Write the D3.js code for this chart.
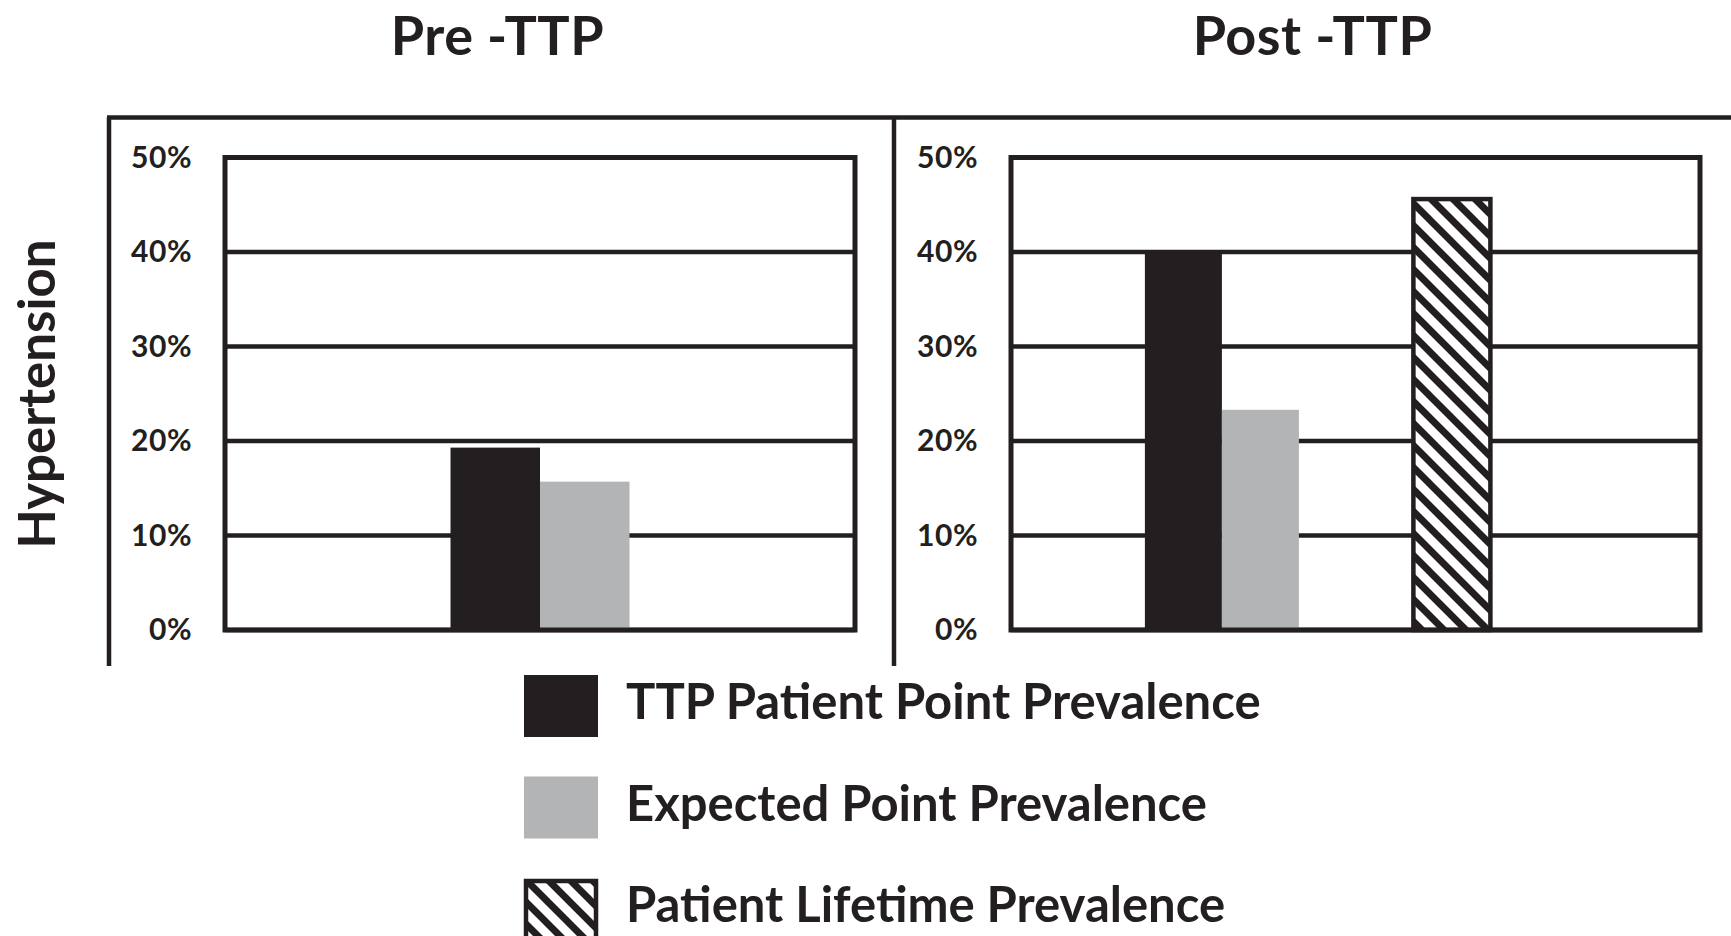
<!DOCTYPE html>
<html>
<head>
<meta charset="utf-8">
<script src="https://cdn.jsdelivr.net/npm/d3@7/dist/d3.min.js"></script>
<style>
  html, body { margin: 0; padding: 0; background: #fff; overflow: hidden; }
  svg { display: block; }
  text { font-family: Lato, "Open Sans", sans-serif; font-weight: 700; fill: #231f20; }
</style>
</head>
<body>
<svg id="chart" width="1731" height="936"></svg>
<script>
// ---------------- data ----------------
const panelTitles = ["Pre -TTP", "Post -TTP"];
const yAxisLabel = "Hypertension";
const yTicks = [0, 0.1, 0.2, 0.3, 0.4, 0.5];
const seriesNames = ["TTP Patient Point Prevalence", "Expected Point Prevalence", "Patient Lifetime Prevalence"];
const ttpPointPrevalence = [0.193, 0.400];      // Pre, Post
const expectedPointPrevalence = [0.157, 0.233]; // Pre, Post
const lifetimePrevalence = [null, 0.456];        // Post only

// ---------------- styles ----------------
const INK = "#231f20";
const GRAY = "#b2b4b6";

const svg = d3.select("#chart");

// hatch pattern
const defs = svg.append("defs");
const pat = defs.append("pattern")
  .attr("id", "hatch").attr("patternUnits", "userSpaceOnUse")
  .attr("width", 22).attr("height", 22);
pat.append("rect").attr("width", 22).attr("height", 22).attr("fill", "#fff");
pat.append("path")
  .attr("d", "M-11,-11 L33,33 M-11,11 L11,33 M11,-11 L33,11")
  .attr("stroke", INK).attr("stroke-width", 7);

// ---------------- layout ----------------
const frameTop = 117.5, frameBottom = 666;
const frameLeft = 109, frameDivider = 894, frameRight = 1731;
const plotTop = 157.5, plotBottom = 630;
const panels = [
  { left: 225, right: 855, center: (frameLeft + frameDivider) / 2 - 4 },
  { left: 1011, right: 1700, center: (frameDivider + frameRight) / 2 }
];

const y = d3.scaleLinear().domain([0, 0.5]).range([plotBottom, plotTop]);

// outer frame
const frame = svg.append("g").attr("stroke", INK).attr("stroke-width", 4.5).attr("fill", "none");
frame.append("line").attr("x1", frameLeft - 2).attr("x2", frameRight).attr("y1", frameTop).attr("y2", frameTop);
frame.append("line").attr("x1", frameLeft).attr("x2", frameLeft).attr("y1", frameTop).attr("y2", frameBottom);
frame.append("line").attr("x1", frameDivider).attr("x2", frameDivider).attr("y1", frameTop).attr("y2", frameBottom);

// y-axis title
svg.append("text")
  .attr("transform", `translate(55,394) rotate(-90)`)
  .attr("text-anchor", "middle")
  .style("font-size", "51px")
  .text(yAxisLabel);

// x scales
const xPre = d3.scaleBand().domain(["Point"]).range([panels[0].left, panels[0].right])
  .paddingInner(0).paddingOuter(1.26).align(0.5);
const xPost = d3.scaleBand().domain(["Point", "Lifetime"]).range([panels[1].left, panels[1].right])
  .paddingInner(0.3304).paddingOuter(0.663).align(0.439);
const xScales = [xPre, xPost];

panels.forEach((p, i) => {
  const g = svg.append("g");
  // title
  g.append("text")
    .attr("x", p.center).attr("y", 55)
    .attr("text-anchor", "middle")
    .style("font-size", "54px")
    .style("letter-spacing", "0.5px")
    .text(panelTitles[i]);

  // gridlines
  g.append("g").selectAll("line").data(yTicks).join("line")
    .attr("x1", p.left).attr("x2", p.right)
    .attr("y1", d => y(d)).attr("y2", d => y(d))
    .attr("stroke", INK).attr("stroke-width", 4.5);

  // y axis labels
  const axis = d3.axisLeft(y).tickValues(yTicks).tickFormat(d3.format(".0%")).tickSize(0).tickPadding(0);
  const ag = g.append("g").attr("transform", `translate(${p.left - 33},0)`).call(axis);
  ag.select(".domain").remove();
  ag.selectAll("text").style("font-size", "30px").attr("fill", INK)
    .style("letter-spacing", "0.5px")
    .style("font-family", "Lato, 'Open Sans', sans-serif").style("font-weight", 700);

  // bars
  const x = xScales[i];
  const sub = d3.scaleBand().domain(["ttp", "expected"]).range([0, x.bandwidth()]);
  const pointBars = [
    { key: "ttp", v: ttpPointPrevalence[i], fill: INK },
    { key: "expected", v: expectedPointPrevalence[i], fill: GRAY }
  ];
  g.append("g").selectAll("rect").data(pointBars).join("rect")
    .attr("x", d => x("Point") + sub(d.key))
    .attr("width", sub.bandwidth())
    .attr("y", d => y(d.v))
    .attr("height", d => y(0) - y(d.v))
    .attr("fill", d => d.fill);

  if (lifetimePrevalence[i] != null) {
    const w = sub.bandwidth();
    g.append("rect")
      .attr("x", x("Lifetime") + (x.bandwidth() - w) / 2)
      .attr("width", w)
      .attr("y", y(lifetimePrevalence[i]))
      .attr("height", y(0) - y(lifetimePrevalence[i]))
      .attr("fill", "url(#hatch)")
      .attr("stroke", INK).attr("stroke-width", 4.5);
  }

  // plot border on top
  g.append("rect")
    .attr("x", p.left).attr("y", plotTop)
    .attr("width", p.right - p.left).attr("height", plotBottom - plotTop)
    .attr("fill", "none").attr("stroke", INK).attr("stroke-width", 5);
});

// legend
const legendFills = [INK, GRAY, "url(#hatch)"];
const lg = svg.append("g").attr("transform", "translate(524,675)");
const items = lg.selectAll("g").data(seriesNames).join("g")
  .attr("transform", (d, i) => `translate(0,${i * 101.5})`);
items.append("rect")
  .attr("x", (d, i) => i === 2 ? 2 : 0).attr("y", (d, i) => i === 2 ? 3 : 0)
  .attr("width", (d, i) => i === 2 ? 70 : 74).attr("height", 62)
  .attr("fill", (d, i) => legendFills[i])
  .attr("stroke", (d, i) => i === 2 ? INK : "none").attr("stroke-width", 4.5);
items.append("text")
  .attr("x", 102).attr("y", 44)
  .style("font-size", "49px")
  .text(d => d);
</script>
</body>
</html>
